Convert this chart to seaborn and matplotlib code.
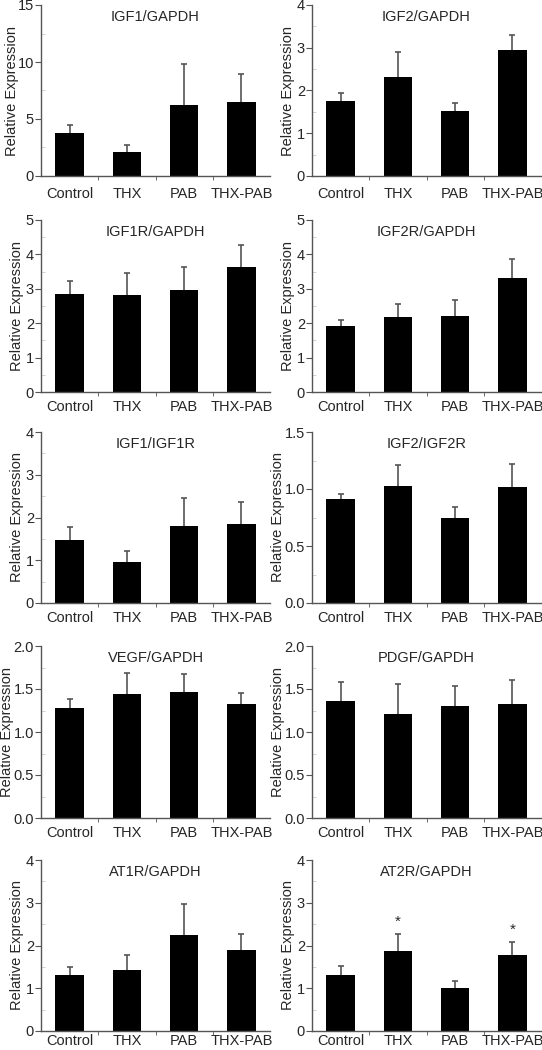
import numpy as np
import matplotlib
matplotlib.use("Agg")
import matplotlib.pyplot as plt
from matplotlib.ticker import MultipleLocator, AutoMinorLocator, FormatStrFormatter
import seaborn as sns

sns.set_style("ticks")
plt.rcParams['font.family'] = ['Liberation Sans', 'DejaVu Sans']

# Grupos
groups = ["Control", "THX", "PAB", "THX-PAB"]

# Medias y error (solo hacia arriba) de cada panel
igf1_gapdh = [3.8, 2.1, 6.2, 6.5]
igf1_gapdh_err = [0.65, 0.6, 3.65, 2.45]
igf2_gapdh = [1.75, 2.32, 1.52, 2.95]
igf2_gapdh_err = [0.2, 0.58, 0.18, 0.35]
igf1r_gapdh = [2.85, 2.82, 2.96, 3.63]
igf1r_gapdh_err = [0.38, 0.64, 0.67, 0.65]
igf2r_gapdh = [1.92, 2.19, 2.21, 3.31]
igf2r_gapdh_err = [0.16, 0.38, 0.45, 0.56]
igf1_igf1r = [1.48, 0.95, 1.80, 1.84]
igf1_igf1r_err = [0.30, 0.26, 0.65, 0.52]
igf2_igf2r = [0.91, 1.03, 0.75, 1.02]
igf2_igf2r_err = [0.05, 0.18, 0.09, 0.20]
vegf_gapdh = [1.28, 1.44, 1.47, 1.33]
vegf_gapdh_err = [0.10, 0.25, 0.21, 0.12]
pdgf_gapdh = [1.36, 1.21, 1.30, 1.32]
pdgf_gapdh_err = [0.22, 0.35, 0.23, 0.28]
at1r_gapdh = [1.30, 1.42, 2.25, 1.89]
at1r_gapdh_err = [0.20, 0.35, 0.72, 0.38]
at2r_gapdh = [1.32, 1.86, 1.00, 1.77]
at2r_gapdh_err = [0.21, 0.40, 0.16, 0.31]
at2r_signif = ["", "*", "", "*"]

titles = ["IGF1/GAPDH", "IGF2/GAPDH", "IGF1R/GAPDH", "IGF2R/GAPDH", "IGF1/IGF1R",
          "IGF2/IGF2R", "VEGF/GAPDH", "PDGF/GAPDH", "AT1R/GAPDH", "AT2R/GAPDH"]
means = [igf1_gapdh, igf2_gapdh, igf1r_gapdh, igf2r_gapdh, igf1_igf1r,
         igf2_igf2r, vegf_gapdh, pdgf_gapdh, at1r_gapdh, at2r_gapdh]
errs = [igf1_gapdh_err, igf2_gapdh_err, igf1r_gapdh_err, igf2r_gapdh_err, igf1_igf1r_err,
        igf2_igf2r_err, vegf_gapdh_err, pdgf_gapdh_err, at1r_gapdh_err, at2r_gapdh_err]
ymax = [15, 4, 5, 5, 4, 1.5, 2, 2, 4, 4]
ystep = [5, 1, 1, 1, 1, 0.5, 0.5, 0.5, 1, 1]
yfmt = ["%d", "%d", "%d", "%d", "%d", "%.1f", "%.1f", "%.1f", "%d", "%d"]
signif = [None] * 9 + [at2r_signif]

fig = plt.figure(figsize=(5.42, 10.5), dpi=100)

W, H = 542, 1050
col_left = [41, 312]
ax_w = 229
rows = [(5, 176), (220, 392), (432, 603), (646, 818), (860, 1031)]
xpad = [8, 6, 6, 6, 2]

gris = "#555555"

for i in range(10):
    r, c = divmod(i, 2)
    top, bot = rows[r]
    ax = fig.add_axes([col_left[c] / W, 1 - bot / H, ax_w / W, (bot - top) / H])

    sns.barplot(x=groups, y=means[i], color="black", width=0.5, saturation=1,
                edgecolor="black", linewidth=0, ax=ax)
    eb = ax.errorbar(np.arange(4), means[i], yerr=[np.zeros(4), errs[i]], fmt="none",
                     ecolor=gris, elinewidth=1.2, capsize=2.5, capthick=1.2, zorder=1)
    eb[1][0].set_visible(False)

    if signif[i] is not None:
        for k, s in enumerate(signif[i]):
            if s:
                ax.text(k, means[i][k] + errs[i][k] + 0.12, s, ha="center", va="bottom", fontsize=11)

    ax.set_xlim(-0.5, 3.5)
    ax.set_ylim(0, ymax[i])
    ax.yaxis.set_major_locator(MultipleLocator(ystep[i]))
    ax.yaxis.set_major_formatter(FormatStrFormatter(yfmt[i]))
    ax.yaxis.set_minor_locator(AutoMinorLocator(2))
    ax.set_xticks([0.5, 1.5, 2.5], minor=True)

    ax.tick_params(axis="x", which="major", length=0, pad=xpad[r], labelsize=10.5)
    ax.tick_params(axis="x", which="minor", length=3, color=gris, direction="out")
    ax.tick_params(axis="y", which="major", length=4, pad=1, labelsize=10.5, color=gris)
    ax.tick_params(axis="y", which="minor", length=3, direction="in", color="#cccccc")

    for sp in ["top", "right"]:
        ax.spines[sp].set_visible(False)
    for sp in ["left", "bottom"]:
        ax.spines[sp].set_color(gris)
        ax.spines[sp].set_linewidth(1)

    ax.set_ylabel("Relative Expression", fontsize=10.5)
    if yfmt[i] == "%.1f":
        ax.yaxis.set_label_coords(-0.118, 0.5)
    elif ymax[i] >= 10:
        ax.yaxis.set_label_coords(-0.095, 0.5)
    else:
        ax.yaxis.set_label_coords(-0.074, 0.5)
    ax.set_xlabel("")
    ax.text(0.5, 0.93, titles[i], transform=ax.transAxes, ha="center", va="center", fontsize=10.5)

fig.savefig("out.png", dpi=100)
